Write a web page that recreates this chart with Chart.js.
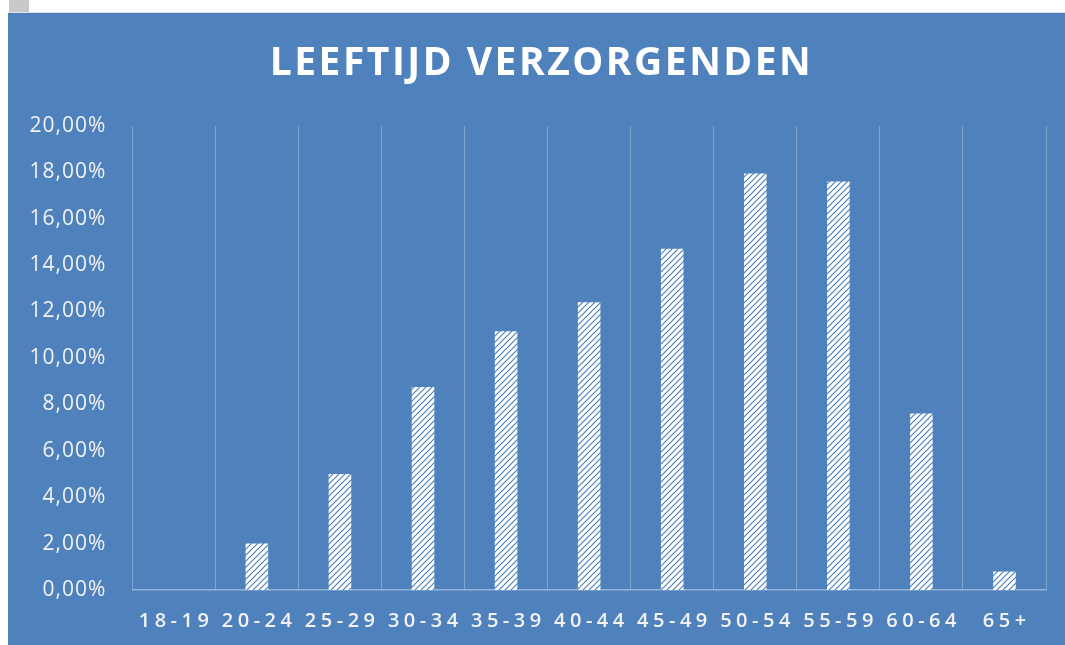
<!DOCTYPE html>
<html lang="nl">
<head>
  <meta charset="UTF-8" />
  <title>Leeftijd verzorgenden</title>
  <script src="https://cdn.jsdelivr.net/npm/chart.js"></script>
  <style>
    body { margin: 0; background: #fff; font-family: 'Open Sans', sans-serif; overflow: hidden; }
    #hoekje { position: absolute; left: 9px; top: 0; width: 20px; height: 13px; background: #c9c9c9; }
    #paneel { position: absolute; left: 8px; top: 12px; width: 1057px; height: 633px; background: #4f81bd; border-top: 1px solid #dde3ea; }
    canvas { display: block; }
  </style>
</head>
<body>
  <div id="hoekje"></div>
  <div id="paneel">
    <canvas id="grafiek" width="1057" height="632"></canvas>
  </div>

  <script>
    const leeftijden = ['18-19', '20-24', '25-29', '30-34', '35-39', '40-44', '45-49', '50-54', '55-59', '60-64', '65+'];
    const aandeel = [0, 2.0, 5.0, 8.75, 11.15, 12.4, 14.7, 17.95, 17.6, 7.6, 0.8];
    const yTicks = [0, 2, 4, 6, 8, 10, 12, 14, 16, 18, 20];

    const blauw = '#4f81bd';

    // schuine witte arcering voor de staven
    function arcering() {
      const s = 6;
      const c = document.createElement('canvas');
      c.width = s; c.height = s;
      const g = c.getContext('2d');
      g.fillStyle = '#ffffff';
      g.fillRect(0, 0, s, s);
      g.strokeStyle = blauw;
      g.lineWidth = 1.2;
      g.beginPath();
      g.moveTo(-1, 1); g.lineTo(1, -1);
      g.moveTo(0, s); g.lineTo(s, 0);
      g.moveTo(s - 1, s + 1); g.lineTo(s + 1, s - 1);
      g.stroke();
      return document.getElementById('grafiek').getContext('2d').createPattern(c, 'repeat');
    }

    // schalen met extra letterafstand in de labels
    class SpatieCategorie extends Chart.CategoryScale {
      drawLabels(area) {
        const ctx = this.ctx;
        ctx.save();
        ctx.letterSpacing = '4.5px';
        ctx.translate(2.25, 0);
        super.drawLabels(area);
        ctx.restore();
      }
    }
    SpatieCategorie.id = 'spatieCategorie';
    SpatieCategorie.defaults = Chart.CategoryScale.defaults;

    class SpatieLineair extends Chart.LinearScale {
      _computeLabelArea() { return undefined; } // labels niet afknippen
      drawLabels(area) {
        const ctx = this.ctx;
        ctx.save();
        ctx.letterSpacing = '1px';
        super.drawLabels(area);
        ctx.restore();
      }
    }
    SpatieLineair.id = 'spatieLineair';
    SpatieLineair.defaults = Chart.LinearScale.defaults;

    Chart.register(SpatieCategorie, SpatieLineair);

    const titelSpatie = {
      id: 'titelSpatie',
      beforeDraw(chart) { chart.ctx.letterSpacing = '2.5px'; }
    };

    Chart.defaults.font.family = "'Open Sans', sans-serif";

    new Chart(document.getElementById('grafiek'), {
      type: 'bar',
      data: {
        labels: leeftijden,
        datasets: [{
          data: aandeel,
          backgroundColor: arcering(),
          borderWidth: 0,
          categoryPercentage: 1,
          barPercentage: 0.272
        }]
      },
      options: {
        responsive: false,
        animation: false,
        layout: { padding: { left: 29, right: 19, top: 0, bottom: 14 } },
        plugins: {
          legend: { display: false },
          tooltip: { enabled: false },
          title: {
            display: true,
            text: 'LEEFTIJD VERZORGENDEN',
            color: '#ffffff',
            font: { size: 39, weight: 'bold' },
            padding: { top: 27, bottom: 39 }
          }
        },
        scales: {
          x: {
            type: 'spatieCategorie',
            afterFit: (scale) => { scale.height = 41; },
            grid: { display: true, offset: true, color: 'rgba(255,255,255,0.28)', lineWidth: 1, drawTicks: false },
            border: { display: true, color: 'rgba(255,255,255,0.4)', width: 1.5 },
            ticks: { color: '#f2f2f2', font: { size: 20, weight: '600' }, padding: 19 }
          },
          y: {
            type: 'spatieLineair',
            min: 0,
            max: 20,
            afterFit: (scale) => { scale.width = 95.3; },
            afterBuildTicks: (scale) => { scale.ticks = yTicks.map(v => ({ value: v })); },
            grid: { display: false, drawTicks: false },
            border: { display: false },
            ticks: {
              color: '#f2f2f2',
              font: { size: 21 },
              padding: 26,
              callback: (v) => v.toFixed(2).replace('.', ',') + '%'
            }
          }
        }
      },
      plugins: [titelSpatie]
    });
  </script>
</body>
</html>
